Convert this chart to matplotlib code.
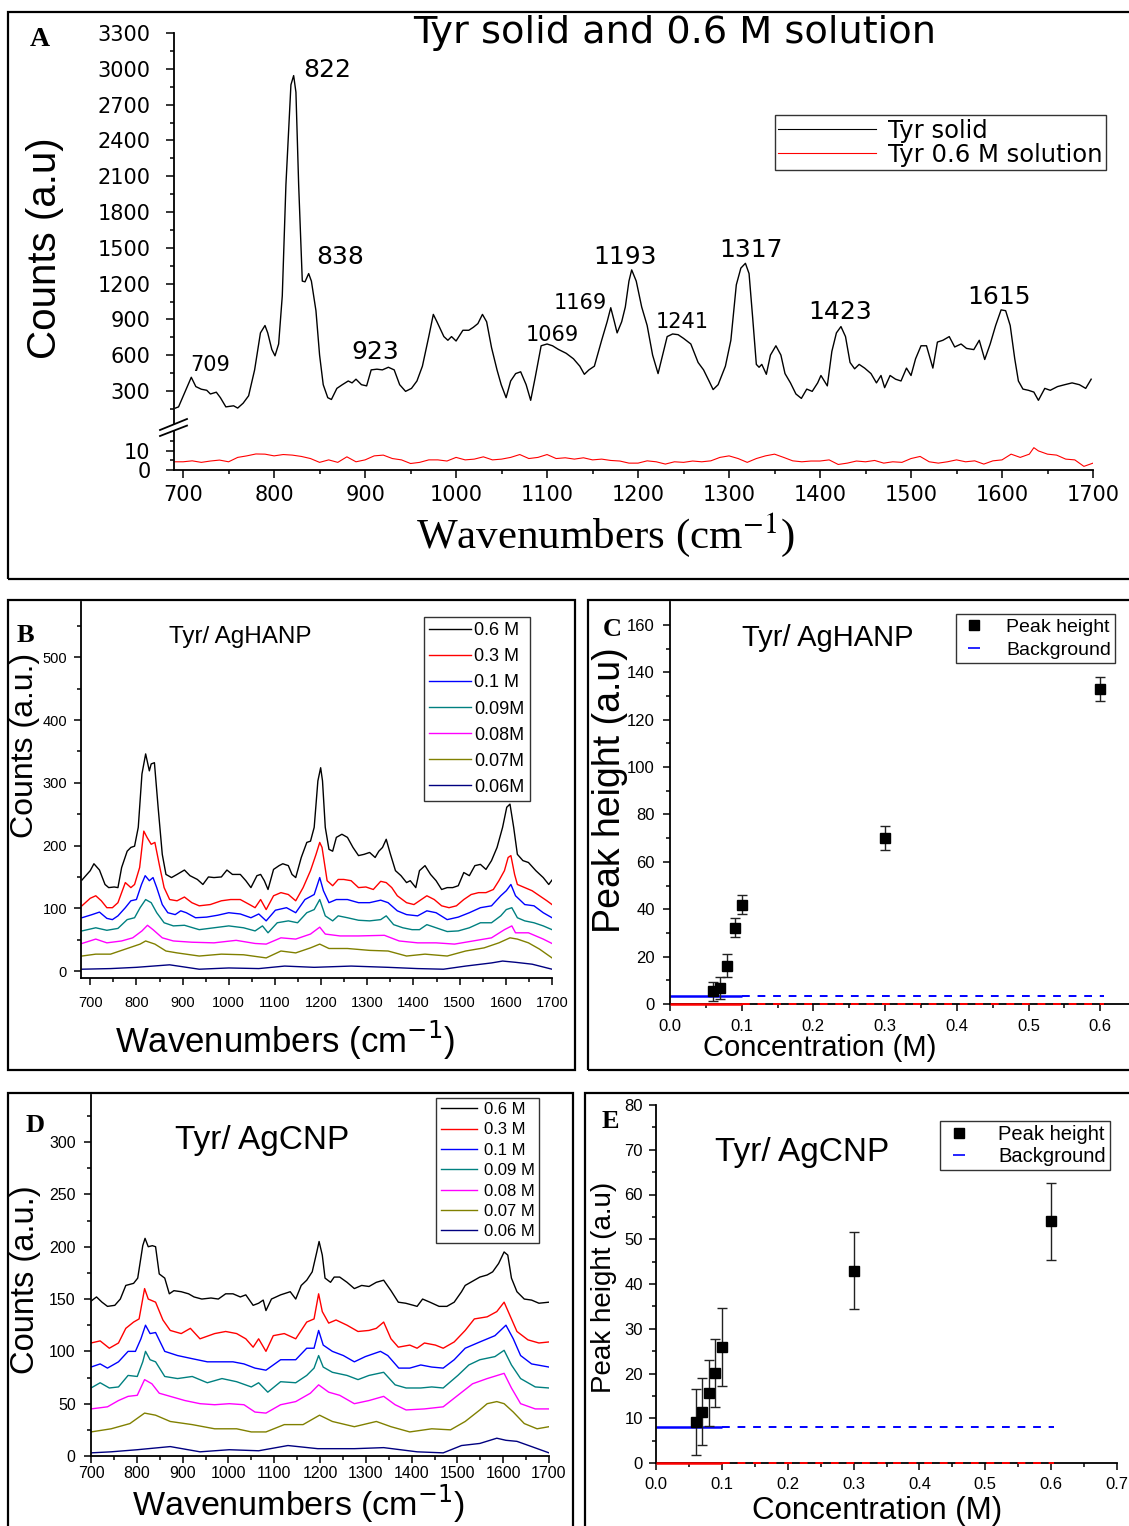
import numpy as np
import matplotlib
matplotlib.use('Agg')
import matplotlib.pyplot as plt
from matplotlib.lines import Line2D
from matplotlib.patches import Rectangle, Polygon
from matplotlib.ticker import MultipleLocator, FixedLocator, FormatStrFormatter

# ---------------- DATA ----------------
# Panel A: Tyr solid (wavenumber, counts)
A_solid = [(691.6,157),(695,167),(709,415),(714,337),(720,315),(726,306),(730,275),(736.5,290),(741,244),
 (747,167),(755.5,176),(760,157),(766,198),(772,260),(778.6,477),(785,787),(790,849),(793,787),(797.5,648),
 (801,595),(805,694),(809,1097),(813,2028),(818.5,2866),(821.5,2943),(824,2804),(827,2028),(831,1221),
 (834,1215),(838,1284),(841,1221),(846,973),(850,601),(854,353),(859,244),(863,229),(869,322),(875,353),
 (881.5,384),(885.7,368),(890,399),(896,353),(901.7,343),(906.7,477),(913,483),(919,477),(925.6,499),
 (932,477),(938,353),(944.5,297),(951,322),(957,384),(963,508),(970,756),(975,942),(979,880),(986.6,756),
 (991,725),(995,756),(1000,719),(1007.5,809),(1014,809),(1019,834),(1024,865),(1029,942),(1033.6,880),
 (1039,663),(1045,477),(1049.6,353),(1055,244),(1060,384),(1065.5,446),(1071,461),(1077,353),(1082,222),
 (1087,415),(1093.5,679),(1100,694),(1106,679),(1112.6,648),(1121,616),(1129,570),(1136,508),(1141,440),
 (1146,477),(1152,508),(1160,725),(1166,880),(1170,998),(1174,880),(1177,787),(1182,880),(1186,1004),
 (1190,1221),(1193,1315),(1198,1221),(1204,1004),(1210,849),(1216,601),(1222,446),(1226,570),(1232,756),
 (1238,778),(1244,772),(1250,741),(1258,694),(1266,539),(1272,477),(1278,384),(1282.5,312),(1288,353),
 (1296,508),(1302,725),(1308,1190),(1313,1330),(1318,1370),(1322,1284),(1326,911),(1330,523),(1333,499),
 (1336,523),(1341,440),(1345.5,601),(1351.5,679),(1357,601),(1361.5,446),(1367.5,368),(1373.5,275),
 (1379.5,238),(1385.4,316),(1391.4,297),(1397.4,368),(1401,430),(1408,343),(1413,632),(1418,787),
 (1423,840),(1428,756),(1433,539),(1438,486),(1443,523),(1449,492),(1456,446),(1462,368),(1467,430),
 (1471,328),(1477,430),(1483,399),(1489,384),(1495,492),(1500,430),(1505,570),(1511,679),(1517,679),
 (1524,492),(1529,710),(1535,725),(1542,756),(1548,669),(1555,694),(1561,657),(1569,647),(1575,725),
 (1581,564),(1587,694),(1593,849),(1599,980),(1604,973),(1609,849),(1614,570),(1618,384),(1623,316),
 (1629,306),(1635,291),(1640,222),(1647,322),(1653,306),(1661,337),(1669,353),(1677,368),(1685,353),
 (1692,322),(1698,399)]
# Panel A: Tyr 0.6 M solution
A_sol_x = [690,700,710,720,730,740,750,760,770,780,790,800,810,820,830,840,850,860,870,880,890,900,910,920,
 930,940,950,960,970,980,990,1000,1010,1020,1030,1040,1050,1060,1070,1080,1090,1100,1110,1120,1130,1140,
 1150,1160,1170,1180,1190,1200,1210,1220,1230,1240,1250,1260,1270,1280,1290,1300,1310,1320,1330,1340,1350,
 1360,1370,1380,1390,1400,1410,1420,1430,1440,1450,1460,1470,1480,1490,1500,1510,1520,1530,1540,1550,1560,
 1570,1580,1590,1600,1610,1620,1630,1635,1640,1650,1660,1670,1680,1690,1700]
A_sol_y = [4.3,4.3,4.8,4.0,4.7,5.2,4.3,6.6,7.4,8.4,8.3,7.4,8.1,7.8,7.1,6.0,4.0,5.3,4.0,6.9,4.3,5.3,7.4,7.8,
 6.0,5.3,3.4,4.0,5.3,5.3,4.7,6.6,5.3,5.7,6.9,5.3,5.7,6.6,8.1,6.0,6.6,8.1,6.0,6.4,5.7,6.4,5.3,5.7,5.0,4.7,
 3.6,3.6,4.8,4.3,3.1,4.3,4.0,4.7,4.3,4.8,6.6,7.4,6.0,4.0,6.0,7.4,8.3,6.6,4.8,4.3,4.7,4.7,5.3,2.9,3.6,4.7,
 4.3,5.0,3.6,4.3,4.0,6.0,7.1,4.3,3.6,4.3,5.3,4.3,4.8,3.1,4.8,5.3,8.3,6.6,8.3,11.7,10.0,8.3,7.8,5.7,5.3,1.9,3.6]
A_peak_labels = ['709','822','838','923','1069','1169','1193','1241','1317','1423','1615']

# Panel B: Tyr/AgHANP spectra
B_06 = [(682,145),(700,160),(708,171),(720,161),(732,138),(740,133),(752,134),(760,133),(768,165),(780,191),
 (788,197),(796,199),(804,229),(812,314),(820,346),(828,319),(832,330),(839,332),(847,261),(856,186),(864,154),
 (876,149),(888,154),(904,161),(916,152),(932,146),(944,138),(956,150),(968,149),(984,150),(996,161),(1008,154),
 (1025,154),(1037,144),(1048,133),(1061,152),(1069,154),(1077,144),(1085,130),(1097,162),(1109,168),(1117,171),
 (1129,168),(1137,154),(1145,149),(1157,181),(1169,205),(1177,207),(1185,229),(1193,303),(1199,324),(1203,303),
 (1209,229),(1217,194),(1225,191),(1233,213),(1245,218),(1257,213),(1269,197),(1281,184),(1293,186),(1305,189),
 (1317,181),(1325,191),(1333,197),(1341,210),(1349,189),(1361,160),(1373,152),(1385,141),(1393,144),(1405,133),
 (1413,160),(1425,168),(1437,154),(1449,144),(1461,130),(1473,133),(1485,133),(1497,136),(1509,157),(1521,152),
 (1533,168),(1545,170),(1557,162),(1569,176),(1581,197),(1593,229),(1602,261),(1609,266),(1617,229),(1625,186),
 (1637,176),(1649,173),(1665,160),(1681,149),(1693,138),(1700,145)]
B_03 = [(682,104),(700,116),(712,120),(724,112),(736,101),(748,101),(760,109),(776,141),(788,133),(796,138),
 (807,165),(816,223),(823,213),(832,202),(840,205),(850,168),(860,133),(872,114),(888,112),(904,118),(920,109),
 (936,104),(960,106),(984,112),(1004,114),(1025,114),(1045,106),(1057,101),(1069,114),(1081,98),(1097,120),
 (1113,125),(1129,122),(1145,112),(1161,133),(1177,160),(1189,186),(1197,205),(1202,197),(1213,144),(1225,136),
 (1237,146),(1249,146),(1265,144),(1281,133),(1297,134),(1313,130),(1329,143),(1341,141),(1353,133),(1365,120),
 (1385,109),(1401,106),(1413,112),(1429,120),(1445,114),(1461,104),(1477,101),(1493,104),(1509,114),(1525,122),
 (1541,125),(1557,125),(1573,130),(1585,144),(1597,160),(1605,181),(1611,184),(1619,154),(1625,138),(1641,133),
 (1657,128),(1673,120),(1689,112),(1700,106)]
B_01 = [(682,85),(704,90),(720,94),(736,84),(748,82),(760,88),(776,101),(788,112),(800,114),(811,138),(819,152),
 (828,144),(836,149),(844,133),(856,106),(868,93),(884,90),(896,96),(908,93),(928,85),(952,86),(976,89),(1000,93),
 (1025,91),(1048,85),(1065,91),(1081,80),(1101,97),(1125,101),(1145,93),(1165,114),(1185,122),(1197,149),
 (1205,128),(1217,109),(1233,114),(1257,114),(1281,109),(1305,109),(1329,113),(1345,109),(1365,96),(1385,90),
 (1409,88),(1429,96),(1449,93),(1473,82),(1497,86),(1521,93),(1545,101),(1569,104),(1589,120),(1601,128),
 (1611,138),(1621,120),(1641,106),(1661,104),(1681,93),(1700,85)]
B_009 = [(682,64),(712,69),(736,65),(760,68),(780,82),(796,85),(808,101),(820,114),(832,109),(844,93),(860,77),
 (880,72),(904,73),(936,66),(968,69),(1000,72),(1032,69),(1057,64),(1073,72),(1085,61),(1105,77),(1129,80),
 (1149,77),(1169,93),(1185,98),(1197,114),(1209,88),(1225,80),(1237,88),(1257,85),(1281,81),(1305,80),(1329,82),
 (1341,88),(1357,74),(1377,69),(1397,66),(1413,66),(1429,74),(1449,69),(1473,63),(1497,64),(1521,69),(1545,77),
 (1569,77),(1589,88),(1601,98),(1613,101),(1625,85),(1641,80),(1661,77),(1681,72),(1700,66)]
B_008 = [(682,44),(712,51),(736,45),(768,48),(792,53),(812,64),(824,73),(836,66),(856,53),(880,48),(920,46),
 (968,45),(1016,49),(1057,44),(1081,43),(1113,53),(1145,51),(1177,59),(1197,70),(1209,59),(1241,56),(1281,56),
 (1337,57),(1369,48),(1409,45),(1449,45),(1489,43),(1529,48),(1569,53),(1597,66),(1613,72),(1621,61),(1649,61),
 (1681,51),(1700,44)]
B_007 = [(682,24),(712,27),(744,27),(776,35),(808,43),(820,48),(840,43),(864,32),(888,29),(936,24),(984,27),
 (1032,26),(1081,21),(1113,32),(1145,29),(1177,37),(1197,43),(1217,36),(1257,36),(1305,33),(1345,32),(1385,24),
 (1425,27),(1473,24),(1513,32),(1553,37),(1585,45),(1609,53),(1625,51),(1649,45),(1673,35),(1700,21)]
B_006 = [(682,3),(744,4),(800,6),(872,10),(936,3),(1000,5),(1065,4),(1121,8),(1185,6),(1265,8),(1345,6),
 (1409,4),(1465,3),(1513,8),(1569,13),(1593,16),(1621,14),(1657,11),(1700,3)]
B_labels = ['0.6 M', '0.3 M', '0.1 M', '0.09M', '0.08M', '0.07M', '0.06M']

# Panel C: Tyr/AgHANP peak height vs concentration
C_conc = [0.06, 0.07, 0.08, 0.09, 0.10, 0.30, 0.60]
C_peak = [5.4, 6.8, 16.2, 32.1, 42.0, 70.1, 133.0]
C_err = [4.0, 4.5, 5.0, 4.0, 4.0, 5.0, 5.0]
C_background = 3.3

# Panel D: Tyr/AgCNP spectra
D_06 = [(700,148),(712,152),(724,147),(736,143),(752,144),(764,150),(776,163),(793,165),(802,170),(813,201),
 (818,208),(825,200),(834,201),(841,200),(849,174),(861,170),(871,155),(881,158),(897,157),(913,155),(925,152),
 (942,150),(962,151),(978,150),(994,155),(1010,155),(1026,152),(1038,154),(1054,144),(1066,146),(1076,149),
 (1082,139),(1094,150),(1114,154),(1135,157),(1147,150),(1159,163),(1171,168),(1183,176),(1193,195),(1198,205),
 (1205,192),(1211,170),(1223,166),(1231,171),(1243,171),(1259,166),(1275,160),(1291,163),(1307,162),(1323,166),
 (1339,168),(1355,158),(1371,147),(1387,146),(1404,144),(1412,143),(1424,150),(1440,147),(1460,143),(1477,143),
 (1493,147),(1509,157),(1517,163),(1529,166),(1549,171),(1565,173),(1577,176),(1590,184),(1602,195),(1610,192),
 (1618,170),(1630,157),(1646,150),(1662,149),(1678,146),(1700,147)]
D_03 = [(700,108),(720,110),(740,103),(760,108),(776,122),(793,128),(805,131),(817,160),(825,150),(841,147),
 (857,130),(873,120),(897,117),(917,122),(938,112),(970,117),(994,119),(1018,117),(1038,112),(1054,104),
 (1066,112),(1082,100),(1098,115),(1122,117),(1147,112),(1171,128),(1187,131),(1197,155),(1205,138),(1219,127),
 (1235,130),(1259,125),(1283,119),(1307,120),(1323,122),(1339,128),(1355,112),(1371,104),(1396,106),(1412,103),
 (1428,108),(1452,106),(1469,103),(1493,109),(1517,120),(1537,131),(1565,133),(1586,138),(1602,147),(1614,135),
 (1630,119),(1654,111),(1678,108),(1700,109)]
D_01 = [(700,85),(720,88),(736,84),(760,90),(781,100),(797,100),(809,112),(819,125),(829,117),(841,118),
 (861,100),(889,96),(921,93),(954,90),(986,90),(1010,90),(1034,88),(1058,84),(1082,82),(1114,92),(1147,92),
 (1171,103),(1187,103),(1197,120),(1207,106),(1227,100),(1251,96),(1275,90),(1299,95),(1332,100),(1348,96),
 (1372,84),(1396,84),(1420,87),(1444,85),(1469,84),(1493,92),(1517,103),(1549,109),(1582,115),(1606,125),
 (1622,112),(1638,96),(1662,88),(1700,85)]
D_009 = [(700,65),(720,70),(740,65),(760,66),(781,77),(801,76),(813,90),(819,100),(829,92),(841,90),(861,76),
 (889,74),(921,76),(954,70),(986,74),(1018,71),(1050,66),(1066,70),(1086,61),(1114,71),(1147,70),(1171,77),
 (1187,84),(1197,96),(1207,85),(1227,80),(1259,77),(1283,73),(1307,77),(1339,80),(1364,68),(1388,65),(1420,65),
 (1444,66),(1469,65),(1501,77),(1525,87),(1549,92),(1582,95),(1602,101),(1618,87),(1638,74),(1670,66),(1700,65)]
D_008 = [(700,45),(736,47),(760,53),(781,57),(801,58),(817,73),(833,69),(849,60),(873,57),(905,53),(938,50),
 (970,49),(1002,50),(1034,49),(1058,42),(1082,41),(1114,49),(1147,52),(1179,60),(1197,68),(1219,61),(1243,58),
 (1275,50),(1307,53),(1339,57),(1364,49),(1388,44),(1428,45),(1469,47),(1501,58),(1533,69),(1565,74),(1602,79),
 (1618,65),(1638,50),(1670,45),(1700,45)]
D_007 = [(700,23),(744,26),(785,31),(817,41),(841,39),(873,33),(921,30),(970,26),(1018,26),(1050,23),(1082,23),
 (1122,30),(1163,30),(1199,39),(1227,33),(1275,28),(1323,33),(1355,28),(1396,23),(1444,26),(1485,25),(1517,33),
 (1549,44),(1565,50),(1586,52),(1602,50),(1622,42),(1646,31),(1674,26),(1700,28)]
D_006 = [(700,3),(744,4),(801,6),(873,9),(938,4),(1002,6),(1066,5),(1130,10),(1195,7),(1275,7),(1339,8),
 (1412,4),(1469,3),(1509,10),(1549,12),(1586,17),(1606,15),(1630,14),(1662,9),(1700,3)]
D_labels = ['0.6 M', '0.3 M', '0.1 M', '0.09 M', '0.08 M', '0.07 M', '0.06 M']

# Panel E: Tyr/AgCNP peak height vs concentration
E_conc = [0.06, 0.07, 0.08, 0.09, 0.10, 0.30, 0.60]
E_peak = [9.1, 11.5, 15.7, 20.1, 26.0, 43.0, 54.0]
E_err = [7.4, 7.4, 7.4, 7.5, 8.7, 8.6, 8.6]
E_background = 8.0

bg_x_solid = [0.0, 0.1]
bg_x_dash = [0.1, 0.605]

series_colors = ['#000000', '#ff0000', '#0000ff', '#008080', '#ff00ff', '#808000', '#000080']

# ---------------- FONTS ----------------
SANS = 'Liberation Sans'
SERIF = 'Liberation Serif'
WIDE = 'DejaVu Sans'

# ---------------- FIGURE ----------------
W, H = 1129, 1526
fig = plt.figure(figsize=(W / 100, H / 100), dpi=100)


def px_axes(l, t, r, b):
    ax = fig.add_axes([l / W, 1 - b / H, (r - l) / W, (b - t) / H])
    ax.set_facecolor('none')
    for s in ['top', 'right']:
        ax.spines[s].set_visible(False)
    for s in ['left', 'bottom']:
        ax.spines[s].set_linewidth(1.3)
    ax.tick_params(which='both', direction='out', width=1.1, colors='black')
    ax.tick_params(which='major', length=5)
    ax.tick_params(which='minor', length=3)
    return ax


def ftext(px, py, s, **kw):
    return fig.text(px / W, 1 - py / H, s, ha=kw.pop('ha', 'center'), va=kw.pop('va', 'center'), **kw)


def frame(l, t, r, b):
    fig.add_artist(Rectangle((l / W, 1 - b / H), (r - l) / W, (b - t) / H, transform=fig.transFigure,
                             fill=False, lw=1.6, ec='black', zorder=20, clip_on=False))


def pts(p):
    a = np.array(p, dtype=float)
    return a[:, 0], a[:, 1]


# ---------------- PANEL A ----------------
axA = px_axes(174, 33, 1093, 428)
axA.spines['bottom'].set_visible(False)
axA.set_xlim(690, 1700)
axA.set_ylim(-10, 3300)
axA.yaxis.set_major_locator(FixedLocator(list(range(300, 3301, 300))))
axA.yaxis.set_minor_locator(FixedLocator(list(range(150, 3300, 300))))
axA.tick_params(axis='x', which='both', bottom=False, labelbottom=False)
axA.tick_params(axis='y', which='major', length=6, pad=11, labelsize=15, labelfontfamily=WIDE)
xs, ys = pts(A_solid)
axA.plot(xs, ys, color='black', lw=1.0)

axA2 = px_axes(174, 428, 1093, 470)
axA2.set_xlim(690, 1700)
axA2.set_ylim(0, 22)
axA2.yaxis.set_major_locator(FixedLocator([0, 10]))
axA2.yaxis.set_minor_locator(FixedLocator([5, 15]))
axA2.xaxis.set_major_locator(MultipleLocator(100))
axA2.xaxis.set_minor_locator(MultipleLocator(50))
axA2.tick_params(axis='y', which='major', length=6, pad=11, labelsize=15, labelfontfamily=WIDE)
axA2.tick_params(axis='x', which='major', length=6, pad=5, labelsize=15, labelfontfamily=WIDE)
axA2.plot(A_sol_x, A_sol_y, color='red', lw=0.8)

# axis-break marks
p1 = [(160, 430), (187, 419), (187, 425.6), (160, 436)]
fig.add_artist(Polygon([(x / W, 1 - y / H) for x, y in p1], closed=True, transform=fig.transFigure,
                       fc='white', ec='none', zorder=15))
for (x0, y0, x1, y1) in [(160, 430, 187, 419), (160, 436, 187, 425.6)]:
    fig.add_artist(Line2D([x0 / W, x1 / W], [1 - y0 / H, 1 - y1 / H], transform=fig.transFigure,
                          color='black', lw=1.3, zorder=16))

# peak labels (x, y in data coords, size)
peak_pos = [(729.7, 518, 15), (858, 2990, 18), (872.5, 1423, 18), (911, 627, 18), (1105.5, 769, 15),
            (1136, 1037, 15), (1185.7, 1423, 18), (1249, 878, 15), (1324, 1482, 18), (1422, 962, 18),
            (1597, 1088, 18)]
for lab, (x, y, s) in zip(A_peak_labels, peak_pos):
    axA.text(x, y, lab, ha='center', va='center', fontsize=s, family=WIDE)

ftext(675, 33, 'Tyr solid and 0.6 M solution', fontsize=27.5, family=WIDE)
ftext(45, 248, 'Counts (a.u)', fontsize=29, family=SANS, rotation=90)
ftext(605, 535, 'Wavenumbers (cm$^{-1}$)', fontsize=31, family=SERIF, math_fontfamily='stix')
ftext(40, 40, 'A', fontsize=20, family=SERIF, weight='bold')
legA = axA.legend([Line2D([], [], color='black', lw=0.8), Line2D([], [], color='red', lw=0.8)],
                  ['Tyr solid', 'Tyr 0.6 M solution'], loc='upper right',
                  bbox_to_anchor=(1106 / W, 1 - 115 / H), bbox_transform=fig.transFigure,
                  prop={'family': WIDE, 'size': 17.5}, frameon=True, fancybox=False, edgecolor='black',
                  handlelength=4.0, handletextpad=0.5, borderpad=0.15, labelspacing=0.0, borderaxespad=0)
legA.get_frame().set_linewidth(1.0)
frame(8, 12, 1140, 579)

# ---------------- PANEL B ----------------
axB = px_axes(81, 602, 552, 978)
axB.set_xlim(680, 1700)
axB.set_ylim(-11, 588)
axB.xaxis.set_major_locator(MultipleLocator(100))
axB.xaxis.set_minor_locator(MultipleLocator(50))
axB.yaxis.set_major_locator(MultipleLocator(100))
axB.yaxis.set_minor_locator(MultipleLocator(50))
axB.tick_params(axis='x', which='major', pad=8, labelsize=10.5, labelfontfamily=SANS)
axB.tick_params(axis='y', which='major', pad=5, labelsize=10.5, labelfontfamily=SANS)
B_series = [B_06, B_03, B_01, B_009, B_008, B_007, B_006]
for s, c in zip(B_series, series_colors):
    xs, ys = pts(s)
    axB.plot(xs, ys, color=c, lw=1.0)
legB = axB.legend([Line2D([], [], color=c, lw=1.0) for c in series_colors], B_labels, loc='upper right',
                  bbox_to_anchor=(530 / W, 1 - 617 / H), bbox_transform=fig.transFigure,
                  prop={'family': SANS, 'size': 13}, frameon=True, fancybox=False, edgecolor='black',
                  handlelength=2.3, handletextpad=0.2, borderpad=0.3, labelspacing=0.5, borderaxespad=0)
legB.get_frame().set_linewidth(1.0)
ftext(240, 637, 'Tyr/ AgHANP', fontsize=17.5, family=SANS)
ftext(25, 745, 'Counts (a.u.)', fontsize=23, family=SANS, rotation=90)
ftext(285, 1040, 'Wavenumbers (cm$^{-1}$)', fontsize=25, family=SANS, math_fontfamily='dejavusans')
ftext(25, 635, 'B', fontsize=19, family=SERIF, weight='bold')
frame(8, 600, 575, 1070)

# ---------------- PANEL C ----------------
axC = px_axes(670, 602, 1129, 1004)
axC.set_xlim(0, 0.64)
axC.set_ylim(0, 169.7)
axC.xaxis.set_major_locator(MultipleLocator(0.1))
axC.xaxis.set_minor_locator(MultipleLocator(0.05))
axC.yaxis.set_major_locator(MultipleLocator(20))
axC.yaxis.set_minor_locator(MultipleLocator(10))
axC.xaxis.set_major_formatter(FormatStrFormatter('%.1f'))
axC.tick_params(axis='x', which='major', pad=6, labelsize=12, labelfontfamily=SANS)
axC.tick_params(axis='y', which='major', pad=6, labelsize=12, labelfontfamily=SANS)
axC.plot(bg_x_solid, [C_background] * 2, color='blue', lw=1.8, solid_capstyle='butt')
axC.plot(bg_x_dash, [C_background] * 2, color='blue', lw=1.4, ls=(0, (4, 4)))
axC.plot(bg_x_solid, [0, 0], color='red', lw=1.8, clip_on=False, zorder=4, solid_capstyle='butt')
axC.plot(bg_x_dash, [0, 0], color='red', lw=1.4, ls=(0, (4, 4)), clip_on=False, zorder=4)
axC.errorbar(C_conc, C_peak, yerr=C_err, fmt='s', color='black', ms=7, capsize=3.5, elinewidth=1,
             ecolor='#222222', capthick=1, zorder=5)
legC = axC.legend([Line2D([], [], marker='s', color='black', ls='none', ms=7),
                   Line2D([], [], marker='_', color='blue', ls='none', ms=8, mew=1.2)],
                  ['Peak height', 'Background'], loc='upper right',
                  bbox_to_anchor=(1115 / W, 1 - 614 / H), bbox_transform=fig.transFigure,
                  prop={'family': SANS, 'size': 14}, frameon=True, fancybox=False, edgecolor='black',
                  handlelength=1.5, handletextpad=0.9, borderpad=0.2, labelspacing=0.3, borderaxespad=0)
legC.get_frame().set_linewidth(1.0)
ftext(828, 638, 'Tyr/ AgHANP', fontsize=21, family=SANS)
ftext(610, 790, 'Peak height (a.u)', fontsize=27, family=SANS, rotation=90)
ftext(820, 1048, 'Concentration (M)', fontsize=21, family=SANS)
ftext(612, 630, 'C', fontsize=19, family=SERIF, weight='bold')
frame(588, 600, 1140, 1070)

# ---------------- PANEL D ----------------
axD = px_axes(91, 1095, 549, 1456)
axD.set_xlim(700, 1700)
axD.set_ylim(0, 345)
axD.xaxis.set_major_locator(MultipleLocator(100))
axD.xaxis.set_minor_locator(MultipleLocator(50))
axD.yaxis.set_major_locator(MultipleLocator(50))
axD.yaxis.set_minor_locator(MultipleLocator(25))
axD.tick_params(axis='x', which='major', pad=2, labelsize=11.5, labelfontfamily=SANS)
axD.tick_params(axis='y', which='major', pad=6, labelsize=11.5, labelfontfamily=SANS)
D_series = [D_06, D_03, D_01, D_009, D_008, D_007, D_006]
for s, c in zip(D_series, series_colors):
    xs, ys = pts(s)
    axD.plot(xs, ys, color=c, lw=1.0)
legD = axD.legend([Line2D([], [], color=c, lw=1.0) for c in series_colors], D_labels, loc='upper right',
                  bbox_to_anchor=(539 / W, 1 - 1098 / H), bbox_transform=fig.transFigure,
                  prop={'family': SANS, 'size': 12}, frameon=True, fancybox=False, edgecolor='black',
                  handlelength=2.2, handletextpad=0.4, borderpad=0.25, labelspacing=0.32, borderaxespad=0)
legD.get_frame().set_linewidth(1.0)
ftext(262, 1140, 'Tyr/ AgCNP', fontsize=24, family=SANS)
ftext(26, 1280, 'Counts (a.u.)', fontsize=23.5, family=SANS, rotation=90)
ftext(298, 1504, 'Wavenumbers (cm$^{-1}$)', fontsize=24.5, family=SANS, math_fontfamily='dejavusans')
ftext(35, 1125, 'D', fontsize=19, family=SERIF, weight='bold')
frame(8, 1093, 573, 1540)

# ---------------- PANEL E ----------------
axE = px_axes(656, 1105, 1117, 1463)
axE.set_xlim(0, 0.7)
axE.set_ylim(0, 80)
axE.xaxis.set_major_locator(MultipleLocator(0.1))
axE.xaxis.set_minor_locator(MultipleLocator(0.05))
axE.yaxis.set_major_locator(MultipleLocator(10))
axE.yaxis.set_minor_locator(MultipleLocator(5))
axE.xaxis.set_major_formatter(FormatStrFormatter('%.1f'))
axE.tick_params(axis='x', which='major', pad=5, labelsize=12, labelfontfamily=SANS)
axE.tick_params(axis='y', which='major', pad=4.5, labelsize=12, labelfontfamily=SANS)
axE.plot(bg_x_solid, [E_background] * 2, color='blue', lw=1.8, solid_capstyle='butt')
axE.plot(bg_x_dash, [E_background] * 2, color='blue', lw=1.4, ls=(0, (4, 4)))
axE.plot(bg_x_solid, [0, 0], color='red', lw=1.8, clip_on=False, zorder=4, solid_capstyle='butt')
axE.plot(bg_x_dash, [0, 0], color='red', lw=1.4, ls=(0, (4, 4)), clip_on=False, zorder=4)
axE.errorbar(E_conc, E_peak, yerr=E_err, fmt='s', color='black', ms=7, capsize=3.5, elinewidth=1,
             ecolor='#222222', capthick=1, zorder=5)
legE = axE.legend([Line2D([], [], marker='s', color='black', ls='none', ms=7),
                   Line2D([], [], marker='_', color='blue', ls='none', ms=8, mew=1.2)],
                  ['Peak height', 'Background'], loc='upper right',
                  bbox_to_anchor=(1110 / W, 1 - 1121 / H), bbox_transform=fig.transFigure,
                  prop={'family': SANS, 'size': 14.5}, frameon=True, fancybox=False, edgecolor='black',
                  handlelength=1.5, handletextpad=1.2, borderpad=0.2, labelspacing=0.15, borderaxespad=0)
legE.get_frame().set_linewidth(1.0)
ftext(802, 1152, 'Tyr/ AgCNP', fontsize=24, family=SANS)
ftext(604, 1287, 'Peak height (a.u)', fontsize=20, family=SANS, rotation=90)
ftext(877, 1511, 'Concentration (M)', fontsize=22.5, family=SANS)
ftext(610, 1122, 'E', fontsize=19, family=SERIF, weight='bold')
frame(585, 1093, 1140, 1540)

fig.savefig('out.png', dpi=100, facecolor='white')
